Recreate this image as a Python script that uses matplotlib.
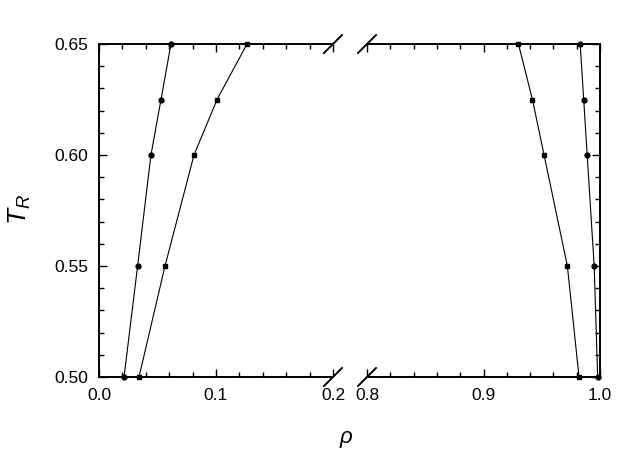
import matplotlib
matplotlib.use("Agg")
import matplotlib.pyplot as plt
from matplotlib.ticker import MultipleLocator
from matplotlib.lines import Line2D

plt.rcParams['font.family'] = ['Liberation Sans', 'DejaVu Sans']
plt.rcParams['mathtext.fontset'] = 'custom'
plt.rcParams['mathtext.it'] = 'Liberation Sans:italic'
plt.rcParams['mathtext.rm'] = 'Liberation Sans'

# temperatures
T = [0.50, 0.55, 0.60, 0.625, 0.65]

# gas side (left panel)
rho_gas_circ = [0.0214, 0.0330, 0.0444, 0.0530, 0.0615]
rho_gas_sq = [0.0342, 0.0564, 0.0812, 0.1009, 0.1265]

# liquid side (right panel)
rho_liq_circ = [0.998, 0.995, 0.989, 0.986, 0.983]
rho_liq_sq = [0.982, 0.972, 0.952, 0.942, 0.930]

fig = plt.figure(figsize=(6.23, 4.55), dpi=100)
axL = fig.add_axes([99/623, 1-377/455, (333-99)/623, (377-44)/455])
axR = fig.add_axes([367/623, 1-377/455, (600-367)/623, (377-44)/455])

for ax in (axL, axR):
    ax.plot(rho_gas_circ if ax is axL else rho_liq_circ, T, color='black', lw=0.8,
            marker='o', ms=3.5, clip_on=False, zorder=5)
    ax.plot(rho_gas_sq if ax is axL else rho_liq_sq, T, color='black', lw=0.8,
            marker='s', ms=3.2, clip_on=False, zorder=5)
    ax.set_ylim(0.50, 0.65)
    ax.yaxis.set_major_locator(MultipleLocator(0.05))
    ax.yaxis.set_minor_locator(MultipleLocator(0.01))
    ax.xaxis.set_major_locator(MultipleLocator(0.1))
    ax.xaxis.set_minor_locator(MultipleLocator(0.02))
    ax.tick_params(which='both', direction='in', top=True, labelsize=12.5, width=1.0)
    ax.tick_params(which='major', length=6)
    ax.tick_params(which='minor', length=3.5)
    for s in ax.spines.values():
        s.set_linewidth(1.4)

axL.set_xlim(0.0, 0.2)
axR.set_xlim(0.8, 1.0)
axL.spines['right'].set_visible(False)
axR.spines['left'].set_visible(False)
axL.tick_params(which='both', right=False, left=True)
axR.tick_params(which='both', left=False, right=True, labelleft=False)
axL.set_yticks([0.50, 0.55, 0.60, 0.65])
axL.set_yticklabels(['0.50', '0.55', '0.60', '0.65'])
axL.set_xticks([0.0, 0.1, 0.2])
axL.set_xticklabels(['0.0', '0.1', '0.2'])
axR.set_xticks([0.8, 0.9, 1.0])
axR.set_xticklabels(['0.8', '0.9', '1.0'])
axL.tick_params(axis='x', pad=8)
axR.tick_params(axis='x', pad=8)
axL.tick_params(axis='y', pad=8)

# break marks
W, H = 623, 455
for cx in (333, 367):
    for cy in (44, 377):
        fig.add_artist(Line2D([(cx-9)/W, (cx+9)/W], [1-(cy+9)/H, 1-(cy-9)/H],
                              color='black', lw=1.4))

fig.text(20/W, 1-210/H, r'$T_R$', fontsize=19, rotation=90, ha='center', va='center')
fig.text(346/W, 1-440/H, r'$\rho$', fontsize=16, ha='center', va='center')

fig.savefig('out.png', dpi=100)
